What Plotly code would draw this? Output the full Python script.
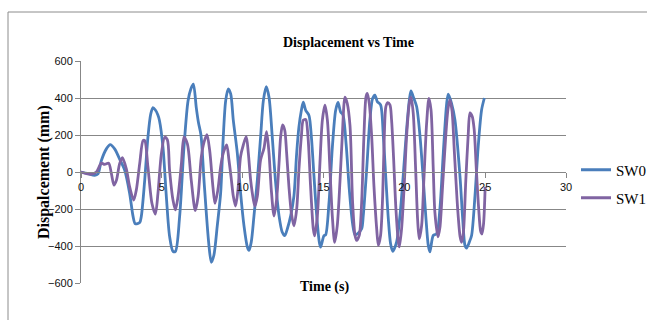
import plotly.graph_objects as go

# ---- data ----
sw0_t = [0, 0.4, 0.85, 1.05, 1.26, 1.57, 1.81, 2.08, 2.39, 2.70,
         3.01, 3.22, 3.36, 3.63, 3.73, 3.94, 4.14, 4.31, 4.45, 4.60,
         4.75, 4.85, 5.07, 5.28, 5.48, 5.69, 5.84, 6.10, 6.37, 6.62,
         6.80, 6.95, 7.13, 7.26, 7.42, 7.62, 7.90, 8.06, 8.22, 8.43,
         8.64, 8.80, 8.95, 9.11, 9.26, 9.42, 9.67, 9.87, 10.08, 10.29,
         10.39, 10.53, 10.70, 10.91, 11.11, 11.28, 11.46, 11.63, 11.83, 12.04,
         12.25, 12.45, 12.60, 12.76, 12.97, 13.17, 13.34, 13.48, 13.63, 13.75,
         13.90, 14.10, 14.25, 14.41, 14.58, 14.74, 14.82, 15.03, 15.13, 15.34,
         15.55, 15.75, 15.90, 16.06, 16.20, 16.40, 16.60, 16.80, 16.95, 17.15,
         17.36, 17.46, 17.67, 17.87, 18.04, 18.18, 18.33, 18.53, 18.70, 18.86,
         19.01, 19.15, 19.28, 19.52, 19.73, 19.93, 20.14, 20.31, 20.41, 20.55,
         20.76, 20.97, 21.17, 21.34, 21.48, 21.58, 21.79, 22.00, 22.20, 22.41,
         22.62, 22.72, 22.92, 23.13, 23.44, 23.61, 23.75, 23.85, 24.02, 24.16,
         24.37, 24.57, 24.78, 24.95]
sw0_v = [0, -8, -18, -10, 62, 125, 148, 125, 70, 10,
         -116, -240, -280, -273, -240, -45, 188, 312, 348, 335,
         310, 280, 134, -134, -348, -429, -429, -241, 134, 384,
         450, 475, 348, 270, 200, -60, -384, -488, -450, -290,
         -112, 190, 386, 449, 422, 280, 101, -112, -290, -406,
         -424, -379, -237, -41, 190, 386, 461, 404, 190, -59,
         -237, -326, -344, -308, -237, -130, 101, 244, 333, 377,
         333, 306, 190, -21, -237, -379, -406, -344, -340, -166,
         137, 333, 376, 324, 310, 150, -100, -280, -340, -330,
         -307, -236, 14, 282, 398, 416, 380, 363, 193, -39,
         -254, -388, -429, -379, -236, -21, 229, 389, 439, 407,
         354, 193, -39, -254, -396, -432, -343, -334, -200, 104,
         371, 421, 371, 282, -21, -254, -396, -411, -379, -343,
         -129, 139, 336, 400]

sw1_t = [0, 0.64, 0.95, 1.26, 1.46, 1.71, 1.88, 2.04, 2.19, 2.39,
         2.56, 2.80, 3.01, 3.26, 3.42, 3.63, 3.84, 3.94, 4.14, 4.39,
         4.60, 4.76, 4.97, 5.18, 5.34, 5.48, 5.69, 5.84, 6.00, 6.21,
         6.37, 6.58, 6.82, 7.07, 7.24, 7.44, 7.61, 7.79, 7.96, 8.16,
         8.29, 8.47, 8.64, 8.80, 9.01, 9.15, 9.30, 9.42, 9.56, 9.71,
         9.87, 10.04, 10.22, 10.35, 10.49, 10.66, 10.76, 10.91, 11.11, 11.32,
         11.48, 11.63, 11.77, 11.94, 12.10, 12.25, 12.35, 12.47, 12.60, 12.72,
         12.86, 13.01, 13.17, 13.34, 13.48, 13.63, 13.75, 13.90, 14.04, 14.20,
         14.37, 14.45, 14.62, 14.78, 14.93, 15.09, 15.24, 15.40, 15.545, 15.69,
         15.85, 16.02, 16.16, 16.33, 16.47, 16.64, 16.80, 16.95, 17.05, 17.21,
         17.36, 17.50, 17.63, 17.71, 17.83, 17.98, 18.12, 18.29, 18.39, 18.53,
         18.66, 18.76, 18.86, 18.97, 19.11, 19.21, 19.32, 19.48, 19.63, 19.69,
         19.83, 19.98, 20.14, 20.31, 20.41, 20.55, 20.70, 20.82, 20.92, 21.07,
         21.21, 21.38, 21.52, 21.65, 21.79, 21.89, 22.08, 22.20, 22.35, 22.55,
         22.70, 22.82, 22.95, 23.10, 23.30, 23.45, 23.54, 23.65, 23.80, 23.95,
         24.06, 24.20, 24.32, 24.45, 24.60, 24.72, 24.80, 24.90, 25.00]
sw1_v = [0, -12, 0, 48, 41, 48, -9, -71, -45, 45,
         77, 18, -80, -152, -98, 45, 170, 170, 27, -170,
         -227, -116, 98, 188, 175, 9, -152, -205, -134, 45,
         188, 152, -45, -209, -134, 80, 161, 202, 116, -80,
         -170, -95, 30, 102, 146, 66, -41, -130, -184, -95,
         84, 146, 191, 102, -41, -148, -184, -130, 66, 129,
         218, 102, -95, -238, -148, 48, 191, 254, 227, 102,
         -77, -220, -291, -202, 12, 191, 280, 284, 191, -77,
         -309, -345, -238, 48, 280, 361, 280, 12, -238, -380,
         -291, -50, 191, 405, 370, 250, -164, -343, -370, -343,
         -164, 193, 407, 425, 371, 193, -75, -307, -396, -343,
         -129, 193, 354, 375, 363, 282, 104, -200, -379, -405,
         -307, -93, 193, 371, 404, 318, 14, -254, -361, -289,
         -39, 264, 398, 336, 14, -218, -350, -300, -100, 180,
         340, 390, 330, 100, -200, -350, -380, -330, -50, 200,
         320, 300, 230, 20, -200, -320, -335, -280, -80]

series_names = ["SW0", "SW1"]
x_ticks = [0, 5, 10, 15, 20, 25, 30]
y_ticks = [-600, -400, -200, 0, 200, 400, 600]

assert len(sw0_t) == len(sw0_v)
assert len(sw1_t) == len(sw1_v)

# ---- layout geometry (pixels) ----
W, H = 647, 320
L, R, T, B = 81, 81, 61, 37
PW, PH = W - L - R, H - T - B


def px_x(px):
    return (px - L) / PW


def px_y(py):
    return (H - B - py) / PH


GRID = "#878787"
BLUE = "#4A7EBB"
PURPLE = "#8064A2"
SERIF = "Liberation Serif"
SANS = "Liberation Sans"

fig = go.Figure()
fig.add_trace(go.Scatter(x=sw0_t, y=sw0_v, name=series_names[0], mode="lines",
                         line=dict(color=BLUE, width=2.8, shape="spline", smoothing=0.8),
                         legend="legend"))
fig.add_trace(go.Scatter(x=sw1_t, y=sw1_v, name=series_names[1], mode="lines",
                         line=dict(color=PURPLE, width=2.8, shape="spline", smoothing=0.8),
                         legend="legend2"))

legend_common = dict(xanchor="left", yanchor="middle", bgcolor="rgba(0,0,0,0)",
                     font=dict(family=SERIF, size=15, color="#000"),
                     borderwidth=0)

fig.update_layout(
    width=W, height=H,
    margin=dict(l=L, r=R, t=T, b=B, pad=0, autoexpand=False),
    paper_bgcolor="white", plot_bgcolor="white",
    showlegend=True,
    legend=dict(x=px_x(576), y=px_y(170), **legend_common),
    legend2=dict(x=px_x(576), y=px_y(198), **legend_common),
    xaxis=dict(range=[0, 30], tickvals=x_ticks, showgrid=False, zeroline=False,
               showline=True, linecolor=GRID, linewidth=1,
               ticks="outside", ticklen=5, tickcolor=GRID,
               anchor="free", position=0.5,
               tickfont=dict(family=SANS, size=11, color="#111")),
    yaxis=dict(range=[-600, 600], tickvals=y_ticks, showgrid=True, gridcolor=GRID,
               gridwidth=1, zeroline=False, showline=True, linecolor=GRID, linewidth=1,
               ticks="outside", ticklen=5, tickcolor=GRID,
               tickfont=dict(family=SANS, size=11, color="#111")),
    annotations=[
        dict(text="<b>Displacement vs Time</b>", x=px_x(348), y=px_y(33),
             xref="paper", yref="paper", showarrow=False,
             font=dict(family=SERIF, size=14, color="#000")),
        dict(text="<b>Time (s)</b>", x=px_x(324), y=px_y(297),
             xref="paper", yref="paper", showarrow=False,
             font=dict(family=SERIF, size=14, color="#000")),
        dict(text="<b>Dispalcement (mm)</b>", x=px_x(33), y=px_y(172),
             xref="paper", yref="paper", showarrow=False, textangle=-90,
             font=dict(family=SERIF, size=16, color="#000")),
    ],
    shapes=[
        dict(type="rect", xref="paper", yref="paper",
             x0=px_x(8), x1=px_x(700), y0=px_y(340), y1=px_y(12),
             line=dict(color="#8c8c8c", width=1), fillcolor="rgba(0,0,0,0)",
             layer="below"),
    ],
)

fig.write_html("out.html")
